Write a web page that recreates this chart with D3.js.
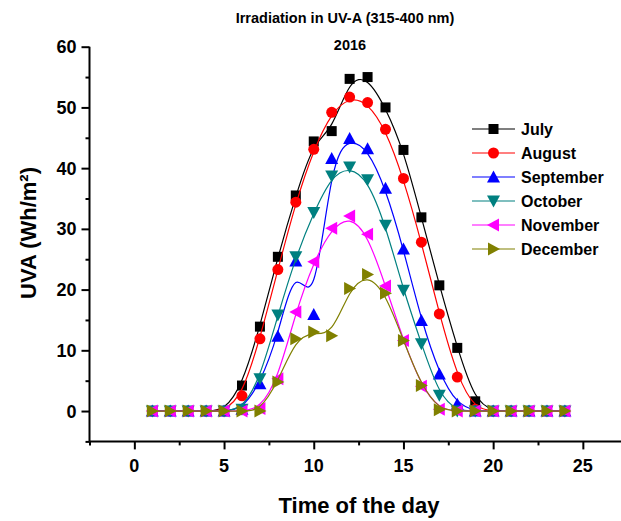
<!DOCTYPE html>
<html><head><meta charset="utf-8">
<script src="https://cdn.jsdelivr.net/npm/d3@7"></script>
<style>body{margin:0;background:#fff}svg{display:block}text{font-family:"Liberation Sans",Arial,sans-serif;font-weight:bold}</style>
</head><body><svg id="c" width="621" height="521"></svg>
<script>
const hours = d3.range(1, 25);
const months = ["July","August","September","October","November","December"];
const colors = ["#000000","#ff0000","#0000ff","#008080","#ff00ff","#808000"];
const symbols = ["square","circle","triUp","triDown","triLeft","triRight"];
const july      = [0,0,0,0,0,4.2,13.9,25.4,35.5,44.4,46.1,54.7,55.0,50.0,43.0,31.9,20.7,10.4,1.6,0,0,0,0,0];
const august    = [0,0,0,0,0,2.5,11.9,23.3,34.4,43.1,49.2,51.7,50.8,46.4,38.3,27.8,16.0,5.6,0.3,0,0,0,0,0];
const september = [0,0,0,0,0,0.3,4.5,12.3,24.7,15.9,41.6,44.9,43.2,36.7,26.7,14.9,6.1,1.1,0,0,0,0,0,0];
const october   = [0,0,0,0,0,0.3,5.3,15.8,25.4,32.7,38.7,40.2,38.1,30.6,19.9,11.1,2.6,0,0,0,0,0,0,0];
const november  = [0,0,0,0,0,0,0.4,5.3,16.3,24.6,30.1,32.1,29.1,20.6,11.6,4.1,0.3,0,0,0,0,0,0,0];
const december  = [0,0,0,0,0,0,0,4.8,11.9,13.0,12.4,20.2,22.5,19.4,11.6,4.2,0.2,0,0,0,0,0,0,0];
const series = [july, august, september, october, november, december];
const xTicks = [0,5,10,15,20,25];
const yTicks = [0,10,20,30,40,50,60];
const title1 = "Irradiation in UV-A (315-400 nm)";
const title2 = "2016";
const xLabel = "Time of the day";

const svg = d3.select("#c");
const x = d3.scaleLinear().domain([-2.5, 27.5]).range([89.5, 89.5 + 30*17.94]);
const y = d3.scaleLinear().domain([-5, 60]).range([441.4, 46.7]);

// axes
const gx = svg.append("g").attr("transform", `translate(0,${y(-5)})`);
gx.call(d3.axisBottom(x).tickValues(d3.range(-2.5, 28, 2.5)).tickSize(4).tickFormat(""));
gx.call(g => g.selectAll(".tick").filter(d => xTicks.includes(d)).select("line").attr("y2", 8));
gx.selectAll("line,path").attr("stroke","#000").attr("stroke-width",2);
gx.select(".domain").attr("d", `M${x(-2.5)},0H621`);
xTicks.forEach(t => gx.append("text").attr("x", x(t)).attr("y", 31).attr("fill","#000").attr("text-anchor","middle").attr("font-size",18).text(t));

const gy = svg.append("g").attr("transform", `translate(${x(-2.5)},0)`);
gy.call(d3.axisLeft(y).tickValues(d3.range(-5, 61, 5)).tickSize(4).tickFormat(""));
gy.call(g => g.selectAll(".tick").filter(d => yTicks.includes(d)).select("line").attr("x2", -8));
gy.selectAll("line,path").attr("stroke","#000").attr("stroke-width",2);
gy.select(".domain").attr("d", `M0,${y(-5)}V${y(60)}`);
yTicks.forEach(t => gy.append("text").attr("x", -13).attr("y", y(t)+6.5).attr("fill","#000").attr("text-anchor","end").attr("font-size",18).text(t));

svg.append("text").attr("x",345).attr("y",23).attr("text-anchor","middle").attr("font-size",14.5).text(title1);
svg.append("text").attr("x",350).attr("y",50).attr("text-anchor","middle").attr("font-size",14.5).text(title2);
svg.append("text").attr("x",359).attr("y",513).attr("text-anchor","middle").attr("font-size",22).text(xLabel);
svg.append("text").attr("transform","translate(36,233) rotate(-90)").attr("text-anchor","middle").attr("font-size",22).text("UVA (Wh/m²)");

function marker(g, type, cx, cy, color) {
  if (type === "square") g.append("rect").attr("x",cx-5).attr("y",cy-5).attr("width",10).attr("height",10).attr("fill",color);
  else if (type === "circle") g.append("circle").attr("cx",cx).attr("cy",cy).attr("r",5.5).attr("fill",color);
  else {
    const a = 6.5, b = 5.5;
    let pts;
    if (type === "triUp") pts = [[cx,cy-a],[cx-a,cy+b],[cx+a,cy+b]];
    if (type === "triDown") pts = [[cx,cy+a],[cx-a,cy-b],[cx+a,cy-b]];
    if (type === "triLeft") pts = [[cx-a,cy],[cx+b,cy-a],[cx+b,cy+a]];
    if (type === "triRight") pts = [[cx+a,cy],[cx-b,cy-a],[cx-b,cy+a]];
    g.append("polygon").attr("points", pts.map(p=>p.join(",")).join(" ")).attr("fill",color);
  }
}

const line = d3.line().x((d,i)=>x(hours[i])).y(d=>y(d)).curve(d3.curveBasis);
series.forEach((vals, k) => {
  const g = svg.append("g");
  g.append("path").attr("d", line(vals)).attr("fill","none").attr("stroke",colors[k]).attr("stroke-width",1.2);
  vals.forEach((v,i) => marker(g, symbols[k], x(hours[i]), y(v), colors[k]));
});

// legend
const lg = svg.append("g");
months.forEach((m,k) => {
  const yy = 129 + k*24;
  lg.append("line").attr("x1",472).attr("x2",515).attr("y1",yy).attr("y2",yy).attr("stroke",colors[k]).attr("stroke-width",1.2);
  marker(lg, symbols[k], 493.5, yy, colors[k]);
  lg.append("text").attr("x",521).attr("y",yy+6).attr("font-size",16).text(m);
});
</script></body></html>
